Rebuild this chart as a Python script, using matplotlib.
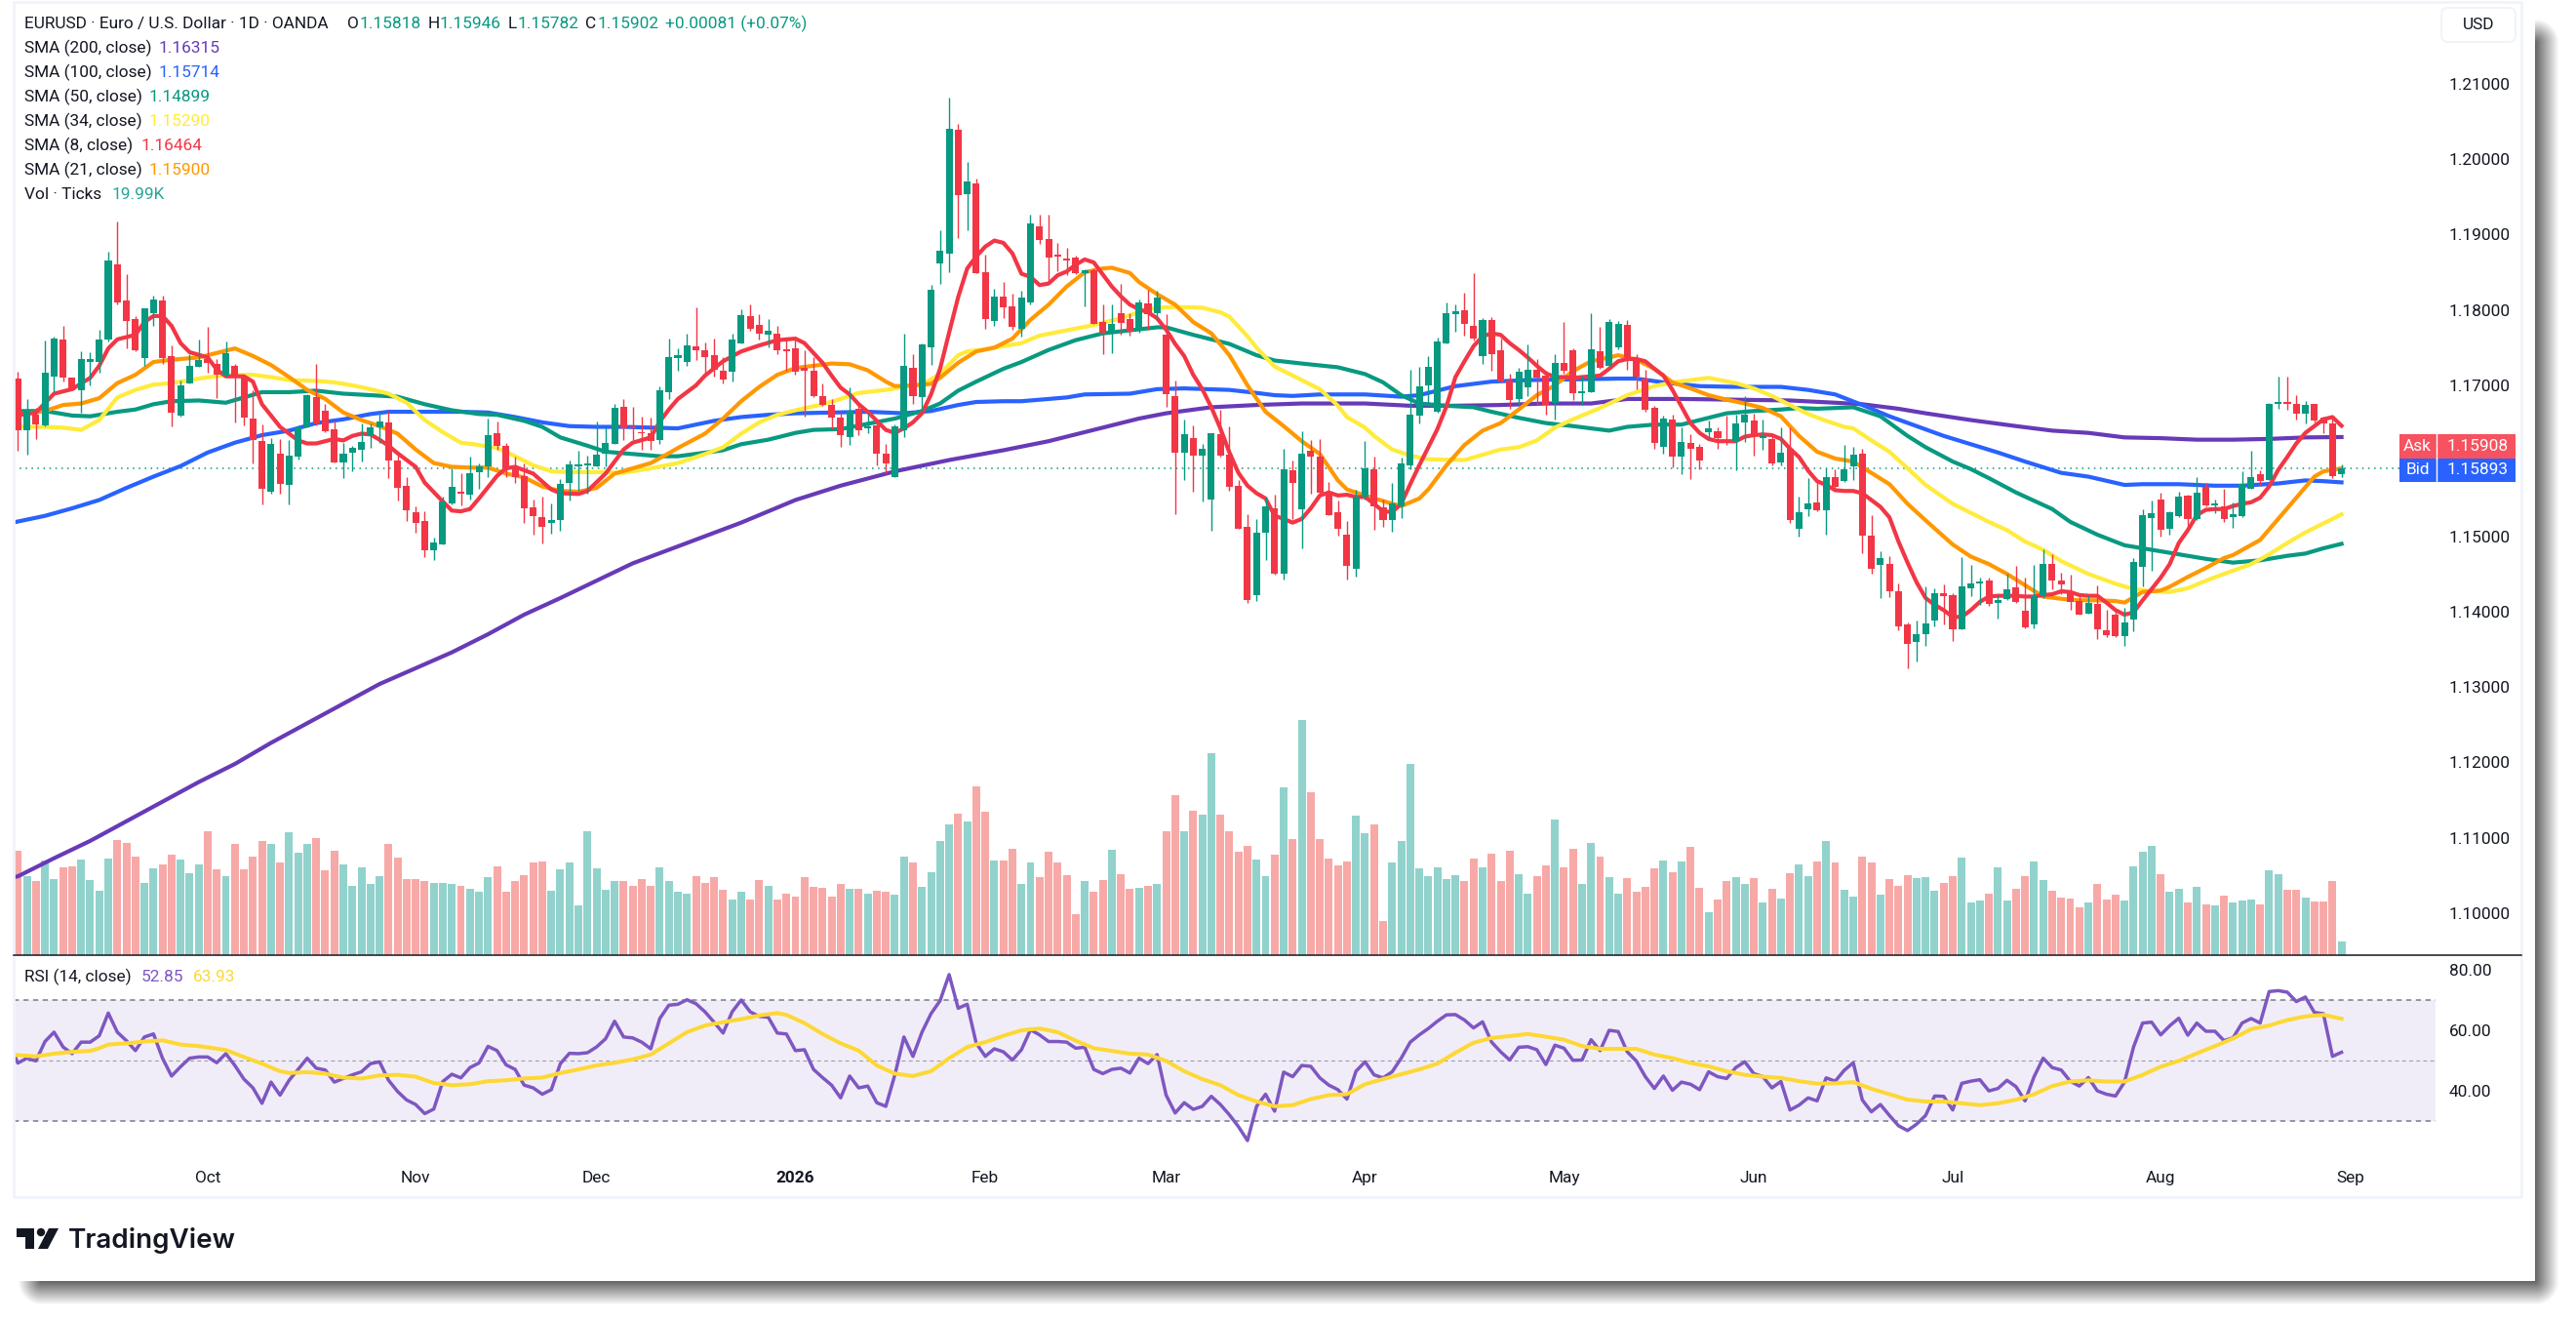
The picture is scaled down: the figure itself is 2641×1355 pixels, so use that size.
import numpy as np
import matplotlib
matplotlib.use('Agg')
import matplotlib.pyplot as plt
from matplotlib.patches import Rectangle, FancyBboxPatch, Polygon, Circle

W, H = 2641, 1355
UP = '#089981'
DOWN = '#f23645'
TEXT = '#131722'
FONT_SIZE = 12.4
plt.rcParams['font.family'] = ['Roboto', 'DejaVu Sans']

opens = [1.1709,1.1640,1.1661,1.1647,1.1712,1.1761,1.1710,1.1694,1.1731,1.1731,
         1.1761,1.1860,1.1813,1.1788,1.1736,1.1796,1.1813,1.1739,1.1660,1.1702,
         1.1725,1.1735,1.1728,1.1713,1.1726,1.1710,1.1656,1.1626,1.1559,1.1610,
         1.1568,1.1606,1.1645,1.1684,1.1666,1.1642,1.1598,1.1611,1.1615,1.1634,
         1.1644,1.1651,1.1600,1.1567,1.1532,1.1520,1.1481,1.1489,1.1543,1.1558,
         1.1555,1.1585,1.1592,1.1636,1.1620,1.1592,1.1580,1.1538,1.1526,1.1518,
         1.1521,1.1570,1.1592,1.1594,1.1593,1.1609,1.1623,1.1671,1.1645,1.1638,
         1.1636,1.1627,1.1691,1.1736,1.1731,1.1752,1.1746,1.1740,1.1719,1.1718,
         1.1756,1.1792,1.1780,1.1767,1.1769,1.1746,1.1749,1.1723,1.1719,1.1686,
         1.1674,1.1657,1.1632,1.1669,1.1643,1.1647,1.1609,1.1579,1.1641,1.1723,
         1.1684,1.1751,1.1862,1.1875,1.2039,1.1954,1.1968,1.1850,1.1785,1.1818,
         1.1805,1.1775,1.1810,1.1911,1.1894,1.1872,1.1867,1.1869,1.1849,1.1853,
         1.1784,1.1769,1.1796,1.1788,1.1774,1.1809,1.1796,1.1767,1.1686,1.1611,
         1.1630,1.1607,1.1548,1.1635,1.1608,1.1567,1.1513,1.1422,1.1505,1.1537,
         1.1450,1.1587,1.1536,1.1613,1.1606,1.1558,1.1532,1.1502,1.1457,1.1552,
         1.1589,1.1538,1.1522,1.1540,1.1594,1.1660,1.1700,1.1665,1.1756,1.1795,
         1.1800,1.1779,1.1739,1.1787,1.1747,1.1706,1.1682,1.1698,1.1721,1.1713,
         1.1677,1.1730,1.1747,1.1690,1.1691,1.1745,1.1726,1.1750,1.1780,1.1734,
         1.1709,1.1670,1.1618,1.1655,1.1605,1.1624,1.1618,1.1638,1.1639,1.1628,
         1.1626,1.1651,1.1653,1.1630,1.1629,1.1598,1.1616,1.1510,1.1536,1.1545,
         1.1534,1.1578,1.1573,1.1593,1.1609,1.1501,1.1462,1.1463,1.1427,1.1383,
         1.1360,1.1370,1.1388,1.1424,1.1422,1.1377,1.1431,1.1438,1.1441,1.1412,
         1.1417,1.1432,1.1401,1.1383,1.1421,1.1463,1.1441,1.1426,1.1414,1.1397,
         1.1410,1.1375,1.1396,1.1368,1.1389,1.1459,1.1524,1.1549,1.1510,1.1527,
         1.1554,1.1523,1.1565,1.1541,1.1540,1.1525,1.1527,1.1563,1.1582,1.1575,
         1.1676,1.1678,1.1675,1.1662,1.1675,1.1657,1.1650,1.15818]
highs = [1.1718,1.1682,1.1670,1.1759,1.1765,1.1779,1.1710,1.1745,1.1744,1.1774,
         1.1877,1.1917,1.1847,1.1792,1.1802,1.1819,1.1819,1.1753,1.1706,1.1741,
         1.1761,1.1778,1.1735,1.1758,1.1729,1.1713,1.1694,1.1648,1.1630,1.1629,
         1.1628,1.1647,1.1689,1.1729,1.1675,1.1654,1.1624,1.1620,1.1649,1.1650,
         1.1667,1.1666,1.1610,1.1578,1.1540,1.1533,1.1498,1.1553,1.1590,1.1583,
         1.1606,1.1597,1.1656,1.1652,1.1624,1.1606,1.1597,1.1549,1.1553,1.1543,
         1.1576,1.1600,1.1613,1.1607,1.1652,1.1645,1.1676,1.1682,1.1671,1.1659,
         1.1657,1.1699,1.1762,1.1749,1.1768,1.1804,1.1757,1.1762,1.1737,1.1768,
         1.1801,1.1807,1.1795,1.1788,1.1779,1.1760,1.1765,1.1747,1.1737,1.1703,
         1.1682,1.1665,1.1697,1.1675,1.1663,1.1653,1.1623,1.1648,1.1768,1.1742,
         1.1756,1.1833,1.1906,1.2081,1.2047,1.1996,1.1974,1.1873,1.1828,1.1837,
         1.1821,1.1825,1.1926,1.1927,1.1926,1.1889,1.1883,1.1872,1.1854,1.1855,
         1.1807,1.1807,1.1834,1.1796,1.1814,1.1827,1.1826,1.1794,1.1707,1.1655,
         1.1647,1.1623,1.1636,1.1668,1.1646,1.1574,1.1529,1.1523,1.1552,1.1555,
         1.1616,1.1601,1.1639,1.1627,1.1629,1.1572,1.1547,1.1520,1.1562,1.1626,
         1.1605,1.1549,1.1571,1.1604,1.1721,1.1724,1.1739,1.1764,1.1810,1.1807,
         1.1823,1.1849,1.1789,1.1791,1.1762,1.1715,1.1723,1.1754,1.1735,1.1719,
         1.1741,1.1784,1.1749,1.1713,1.1796,1.1778,1.1788,1.1786,1.1787,1.1741,
         1.1721,1.1673,1.1660,1.1661,1.1644,1.1635,1.1622,1.1653,1.1644,1.1660,
         1.1661,1.1686,1.1663,1.1655,1.1633,1.1644,1.1644,1.1553,1.1577,1.1575,
         1.1590,1.1589,1.1621,1.1619,1.1616,1.1528,1.1480,1.1474,1.1438,1.1385,
         1.1388,1.1434,1.1431,1.1436,1.1424,1.1472,1.1462,1.1445,1.1445,1.1422,
         1.1450,1.1461,1.1445,1.1462,1.1483,1.1476,1.1451,1.1449,1.1425,1.1422,
         1.1435,1.1402,1.1400,1.1405,1.1471,1.1536,1.1547,1.1558,1.1533,1.1559,
         1.1555,1.1579,1.1571,1.1549,1.1563,1.1545,1.1586,1.1613,1.1588,1.1677,
         1.1711,1.1711,1.1687,1.1679,1.1676,1.1658,1.1657,1.15946]
lows = [1.1613,1.1608,1.1629,1.1646,1.1691,1.1705,1.1694,1.1664,1.1700,1.1717,
        1.1758,1.1808,1.1749,1.1745,1.1726,1.1779,1.1728,1.1646,1.1658,1.1702,
        1.1724,1.1717,1.1683,1.1712,1.1651,1.1647,1.1597,1.1542,1.1556,1.1557,
        1.1542,1.1602,1.1644,1.1647,1.1638,1.1598,1.1577,1.1586,1.1599,1.1617,
        1.1624,1.1577,1.1547,1.1520,1.1505,1.1472,1.1468,1.1489,1.1542,1.1541,
        1.1549,1.1563,1.1579,1.1615,1.1578,1.1571,1.1518,1.1502,1.1491,1.1503,
        1.1507,1.1547,1.1560,1.1556,1.1592,1.1592,1.1622,1.1628,1.1628,1.1615,
        1.1614,1.1622,1.1682,1.1719,1.1726,1.1733,1.1712,1.1712,1.1702,1.1705,
        1.1755,1.1773,1.1761,1.1750,1.1742,1.1720,1.1714,1.1659,1.1684,1.1673,
        1.1642,1.1618,1.1621,1.1634,1.1637,1.1594,1.1584,1.1578,1.1632,1.1675,
        1.1666,1.1727,1.1835,1.1850,1.1895,1.1906,1.1849,1.1775,1.1779,1.1789,
        1.1774,1.1765,1.1808,1.1887,1.1839,1.1851,1.1846,1.1847,1.1805,1.1781,
        1.1741,1.1743,1.1767,1.1766,1.1770,1.1774,1.1787,1.1672,1.1529,1.1574,
        1.1559,1.1546,1.1507,1.1606,1.1560,1.1510,1.1411,1.1414,1.1468,1.1449,
        1.1443,1.1523,1.1484,1.1557,1.1557,1.1528,1.1501,1.1443,1.1446,1.1549,
        1.1509,1.1512,1.1506,1.1524,1.1589,1.1650,1.1676,1.1664,1.1755,1.1771,
        1.1766,1.1759,1.1729,1.1719,1.1704,1.1669,1.1673,1.1686,1.1674,1.1661,
        1.1655,1.1715,1.1681,1.1674,1.1691,1.1722,1.1725,1.1748,1.1721,1.1695,
        1.1665,1.1616,1.1609,1.1591,1.1582,1.1576,1.1589,1.1629,1.1616,1.1621,
        1.1587,1.1625,1.1607,1.1614,1.1594,1.1594,1.1518,1.1499,1.1527,1.1533,
        1.1502,1.1560,1.1572,1.1575,1.1478,1.1450,1.1418,1.1419,1.1375,1.1325,
        1.1334,1.1355,1.1381,1.1383,1.1361,1.1376,1.1420,1.1409,1.1408,1.1391,
        1.1415,1.1412,1.1378,1.1378,1.1418,1.1430,1.1423,1.1402,1.1396,1.1397,
        1.1364,1.1366,1.1366,1.1354,1.1374,1.1433,1.1454,1.1499,1.1502,1.1526,
        1.1514,1.1522,1.1540,1.1530,1.1519,1.1511,1.1526,1.1563,1.1567,1.1574,
        1.1669,1.1668,1.1655,1.1650,1.1651,1.1637,1.1577,1.15782]
closes = [1.1640,1.1666,1.1648,1.1717,1.1762,1.1710,1.1694,1.1735,1.1735,1.1761,
          1.1865,1.1810,1.1785,1.1746,1.1802,1.1814,1.1736,1.1664,1.1700,1.1726,
          1.1733,1.1730,1.1714,1.1743,1.1712,1.1657,1.1627,1.1563,1.1623,1.1569,
          1.1607,1.1645,1.1687,1.1650,1.1639,1.1598,1.1609,1.1617,1.1625,1.1644,
          1.1652,1.1600,1.1564,1.1535,1.1518,1.1481,1.1492,1.1546,1.1565,1.1557,
          1.1583,1.1593,1.1634,1.1620,1.1590,1.1579,1.1537,1.1527,1.1512,1.1521,
          1.1569,1.1595,1.1595,1.1597,1.1608,1.1624,1.1670,1.1643,1.1643,1.1636,
          1.1626,1.1694,1.1737,1.1740,1.1753,1.1747,1.1737,1.1721,1.1708,1.1761,
          1.1793,1.1775,1.1768,1.1772,1.1747,1.1745,1.1718,1.1720,1.1686,1.1674,
          1.1657,1.1634,1.1667,1.1641,1.1644,1.1609,1.1596,1.1646,1.1726,1.1686,
          1.1754,1.1827,1.1878,1.2040,1.1952,1.1971,1.1849,1.1788,1.1818,1.1804,
          1.1777,1.1817,1.1915,1.1893,1.1870,1.1871,1.1866,1.1849,1.1853,1.1781,
          1.1770,1.1781,1.1783,1.1771,1.1810,1.1795,1.1817,1.1689,1.1611,1.1635,
          1.1607,1.1616,1.1636,1.1607,1.1566,1.1510,1.1416,1.1505,1.1539,1.1450,
          1.1589,1.1570,1.1610,1.1606,1.1558,1.1528,1.1510,1.1461,1.1552,1.1590,
          1.1539,1.1521,1.1543,1.1597,1.1661,1.1699,1.1725,1.1758,1.1796,1.1798,
          1.1781,1.1762,1.1787,1.1742,1.1705,1.1681,1.1718,1.1721,1.1710,1.1674,
          1.1730,1.1719,1.1690,1.1692,1.1748,1.1723,1.1784,1.1782,1.1738,1.1712,
          1.1668,1.1624,1.1656,1.1605,1.1625,1.1616,1.1601,1.1643,1.1630,1.1625,
          1.1650,1.1661,1.1634,1.1631,1.1597,1.1611,1.1522,1.1532,1.1543,1.1534,
          1.1578,1.1565,1.1589,1.1608,1.1501,1.1457,1.1471,1.1427,1.1381,1.1357,
          1.1370,1.1384,1.1424,1.1421,1.1377,1.1434,1.1437,1.1440,1.1410,1.1415,
          1.1430,1.1413,1.1379,1.1421,1.1463,1.1441,1.1436,1.1413,1.1396,1.1412,
          1.1377,1.1369,1.1367,1.1386,1.1466,1.1528,1.1530,1.1508,1.1532,1.1552,
          1.1523,1.1558,1.1541,1.1543,1.1523,1.1529,1.1569,1.1579,1.1573,1.1676,
          1.1678,1.1675,1.1663,1.1674,1.1653,1.1650,1.1580,1.15902]

# volume in thousands of ticks
volumes = [148.9,112.0,105.2,134.7,108.4,125.2,126.8,136.2,107.3,92.1,137.8,164.1,159.9,140.4,103.1,123.6,
           129.4,143.1,136.2,116.8,129.4,176.7,122.6,112.6,158.3,122.6,140.4,162.5,158.3,132.0,175.2,146.2,
           158.3,166.7,121.0,148.9,129.4,98.9,125.2,101.5,112.6,158.3,138.9,108.4,108.4,105.7,103.1,103.1,
           101.5,98.9,94.7,90.5,111.5,126.8,89.4,104.7,114.1,132.0,133.6,92.1,122.6,132.0,71.0,176.7,
           123.6,93.1,104.7,105.7,98.9,108.4,98.9,125.2,105.7,90.5,87.8,112.6,103.1,111.5,93.1,79.4,
           90.5,79.4,107.3,98.9,79.4,87.8,83.6,111.5,97.3,96.3,83.6,100.5,94.7,94.7,87.8,92.1,
           90.5,86.3,140.4,131.0,97.3,118.4,162.5,186.2,201.5,190.4,240.4,204.1,134.7,134.7,151.5,101.5,
           131.0,111.5,147.3,131.0,114.1,58.9,105.7,89.4,107.3,149.9,115.7,94.7,96.3,98.9,101.5,176.7,
           227.8,176.7,205.7,199.9,287.2,199.9,176.7,147.3,155.7,136.2,112.6,143.1,237.8,165.2,334.5,232.0,
           165.2,137.8,127.8,133.6,198.8,173.6,186.2,48.9,132.0,162.5,271.9,123.6,112.6,125.2,108.4,114.1,
           104.7,137.8,125.2,144.7,104.7,148.9,115.7,87.8,112.6,127.8,193.0,125.2,151.5,101.5,159.9,140.4,
           111.5,87.8,109.9,89.4,97.3,123.6,134.7,118.4,133.6,154.1,96.3,61.5,79.4,104.7,111.5,101.5,
           109.9,75.2,94.7,81.0,116.8,129.4,112.6,133.6,161.5,131.0,93.1,83.6,140.4,132.0,86.3,108.4,
           98.9,114.1,109.9,111.5,92.1,103.1,112.6,138.9,75.2,77.8,87.8,125.2,77.8,94.7,112.6,133.6,
           107.3,92.1,82.1,81.0,68.4,75.2,100.5,79.4,86.3,77.8,126.8,147.3,155.7,115.7,90.5,94.7,
           75.2,97.3,72.6,70.0,85.2,74.2,77.8,79.4,72.6,119.9,115.7,93.1,93.1,82.1,76.8,76.8,
           105.7,19.99]

sma200_x = [-1,0,4,8,12,16,20,24,28,32,36,40,44,48,52,56,60,64,68,72,76,80,86,91,97,103,109,114,119,124,127,132,
            137,142,149,154,159,164,169,174,176,178,184,190,196,201,204,208,211,216,221,225,229,233,237,241,245,249,253,257]
sma200 = [1.1047,1.1049,1.1073,1.1096,1.1122,1.1148,1.1174,1.1198,1.1226,1.1252,1.1278,1.1304,1.1325,1.1346,1.1370,
          1.1396,1.1418,1.1441,1.1464,1.1482,1.1500,1.1518,1.1548,1.1567,1.1586,1.1601,1.1614,1.1626,1.1641,1.1656,
          1.1663,1.1671,1.1674,1.1676,1.1676,1.1673,1.1673,1.1674,1.1676,1.1676,1.1679,1.1682,1.1682,1.1681,1.1680,
          1.1677,1.1675,1.1669,1.1663,1.1654,1.1646,1.1640,1.1637,1.1631,1.1630,1.1628,1.1628,1.1629,1.1631,1.16315]

sma100_x = [-1,3,6,9,12,15,18,21,24,27,30,33,36,39,41,45,49,52,55,58,61,64,67,70,73,77,80,83,86,90,94,98,101,104,106,
            109,111,114,116,118,123,126,129,134,137,139,141,144,149,153,155,157,159,163,167,172,177,179,182,186,190,
            195,198,201,204,207,210,213,216,219,222,226,229,233,235,239,243,246,250,253,255,257]
sma100 = [1.1517,1.1527,1.1537,1.1548,1.1564,1.1579,1.1593,1.1611,1.1624,1.1634,1.1640,1.1650,1.1655,1.1662,1.1665,
          1.1665,1.1665,1.1664,1.1658,1.1651,1.1646,1.1645,1.1645,1.1644,1.1643,1.1653,1.1658,1.1661,1.1663,1.1664,
          1.1665,1.1663,1.1666,1.1674,1.1678,1.1679,1.1679,1.1682,1.1684,1.1688,1.1689,1.1695,1.1696,1.1694,1.1690,
          1.1687,1.1686,1.1688,1.1688,1.1685,1.1687,1.1693,1.1699,1.1705,1.1707,1.1708,1.1709,1.1709,1.1704,1.1699,
          1.1698,1.1698,1.1694,1.1688,1.1674,1.1659,1.1646,1.1633,1.1622,1.1611,1.1599,1.1584,1.1579,1.1568,1.1569,
          1.1569,1.1567,1.1567,1.1570,1.1574,1.1573,1.15714]

sma50_x = [-1,3,6,8,11,13,15,17,20,23,25,27,30,33,36,39,42,45,48,51,53,56,58,60,63,65,68,71,73,78,80,83,86,88,91,94,
           97,100,102,104,106,109,111,114,117,120,123,126,127,130,134,137,139,142,146,149,151,153,155,158,161,163,
           166,169,172,176,178,181,184,187,189,192,195,197,199,203,206,209,211,214,216,218,221,225,227,230,233,236,
           239,242,245,248,251,253,255,257]
sma50 = [1.1666,1.1666,1.1660,1.1659,1.1665,1.1668,1.1675,1.1679,1.1680,1.1677,1.1684,1.1691,1.1691,1.1693,1.1689,
         1.1687,1.1685,1.1675,1.1667,1.1662,1.1661,1.1653,1.1645,1.1631,1.1620,1.1612,1.1609,1.1606,1.1606,1.1614,
         1.1622,1.1628,1.1637,1.1641,1.1642,1.1649,1.1656,1.1666,1.1676,1.1693,1.1705,1.1722,1.1731,1.1747,1.1760,
         1.1769,1.1773,1.1777,1.1777,1.1767,1.1755,1.1740,1.1733,1.1729,1.1724,1.1715,1.1704,1.1687,1.1676,1.1673,
         1.1671,1.1665,1.1657,1.1650,1.1646,1.1640,1.1645,1.1648,1.1648,1.1657,1.1663,1.1666,1.1668,1.1670,1.1669,
         1.1671,1.1659,1.1633,1.1618,1.1599,1.1589,1.1577,1.1558,1.1536,1.1519,1.1502,1.1488,1.1482,1.1476,1.1470,
         1.1465,1.1468,1.1474,1.1477,1.1484,1.14899]

sma34_x = [-1,3,5,7,9,11,13,15,17,20,23,26,28,30,33,35,37,39,41,43,45,47,49,51,53,55,57,59,61,64,67,70,73,76,78,80,
           82,84,86,89,91,93,96,98,100,102,104,105,107,109,111,113,116,119,122,124,126,128,131,133,134,136,137,139,
           141,144,146,147,149,150,152,154,156,160,162,164,166,168,170,172,175,178,181,183,185,187,190,192,194,196,
           198,200,202,203,205,207,209,211,214,216,218,220,222,224,226,229,232,234,236,238,240,242,244,247,249,251,
           253,255,257]
sma34 = [1.1645,1.1645,1.1644,1.1641,1.1654,1.1684,1.1694,1.1701,1.1703,1.1709,1.1714,1.1714,1.1711,1.1707,1.1706,
         1.1704,1.1700,1.1695,1.1689,1.1677,1.1654,1.1638,1.1624,1.1621,1.1617,1.1606,1.1594,1.1586,1.1585,1.1585,
         1.1584,1.1590,1.1597,1.1609,1.1618,1.1636,1.1651,1.1661,1.1667,1.1675,1.1682,1.1690,1.1694,1.1698,1.1701,
         1.1715,1.1740,1.1745,1.1748,1.1752,1.1756,1.1766,1.1773,1.1780,1.1789,1.1797,1.1803,1.1804,1.1803,1.1797,
         1.1791,1.1765,1.1750,1.1725,1.1713,1.1695,1.1673,1.1658,1.1644,1.1633,1.1615,1.1607,1.1602,1.1601,1.1608,
         1.1615,1.1618,1.1627,1.1644,1.1655,1.1670,1.1687,1.1699,1.1704,1.1707,1.1710,1.1703,1.1696,1.1686,1.1674,
         1.1662,1.1653,1.1645,1.1643,1.1627,1.1612,1.1590,1.1568,1.1543,1.1531,1.1519,1.1508,1.1493,1.1482,1.1467,
         1.1450,1.1437,1.1430,1.1427,1.1426,1.1431,1.1441,1.1450,1.1463,1.1476,1.1491,1.1505,1.1517,1.15290]

sma21_x = [-1,3,5,7,9,11,13,15,17,20,22,24,26,28,30,32,34,36,38,40,42,44,46,48,50,52,54,56,58,60,62,64,66,68,70,72,
           73,76,78,80,82,84,86,88,90,92,94,96,97,99,101,102,104,106,108,110,112,114,116,118,120,121,123,124,126,128,
           130,132,134,136,138,140,142,144,146,147,149,152,153,155,156,158,160,162,164,166,168,170,172,174,176,177,
           179,181,183,185,187,189,191,193,195,197,199,201,203,205,207,209,211,214,216,218,220,222,224,226,228,230,
           232,233,235,237,238,240,242,244,245,248,250,252,254,255,257]
sma21 = [1.1659,1.1666,1.1674,1.1676,1.1683,1.1703,1.1714,1.1731,1.1734,1.1737,1.1743,1.1749,1.1739,1.1727,1.1711,
         1.1694,1.1682,1.1664,1.1654,1.1646,1.1636,1.1615,1.1597,1.1592,1.1591,1.1591,1.1583,1.1578,1.1566,1.1560,
         1.1559,1.1564,1.1583,1.1590,1.1597,1.1610,1.1617,1.1636,1.1656,1.1679,1.1698,1.1714,1.1723,1.1726,1.1729,
         1.1728,1.1720,1.1705,1.1699,1.1700,1.1702,1.1710,1.1730,1.1745,1.1750,1.1762,1.1787,1.1807,1.1831,1.1850,
         1.1855,1.1856,1.1849,1.1837,1.1821,1.1807,1.1784,1.1769,1.1740,1.1700,1.1665,1.1646,1.1626,1.1609,1.1574,
         1.1562,1.1554,1.1543,1.1540,1.1550,1.1562,1.1594,1.1621,1.1640,1.1650,1.1668,1.1687,1.1700,1.1719,1.1732,
         1.1737,1.1740,1.1734,1.1722,1.1704,1.1696,1.1687,1.1681,1.1676,1.1670,1.1659,1.1633,1.1612,1.1603,1.1599,
         1.1584,1.1569,1.1543,1.1521,1.1489,1.1473,1.1463,1.1450,1.1435,1.1420,1.1417,1.1415,1.1415,1.1414,1.1412,
         1.1426,1.1428,1.1433,1.1446,1.1458,1.1471,1.1475,1.1495,1.1523,1.1551,1.1579,1.1586,1.15900]

sma8_x = [-1,2,4,6,8,9,10,11,13,14,15,16,17,18,19,21,22,23,25,26,27,29,31,32,33,35,36,37,38,39,40,41,42,44,45,47,48,
          49,50,51,53,54,55,57,59,60,62,63,65,66,67,68,70,71,72,73]
sma8_x += list(range(75, 258))
for skipped in (77, 79, 81, 83, 85, 88):
    sma8_x.remove(skipped)
sma8 = [1.1659,1.1664,1.1689,1.1695,1.1710,1.1726,1.1749,1.1761,1.1767,1.1784,1.1792,1.1792,1.1779,1.1756,1.1744,
        1.1737,1.1721,1.1712,1.1712,1.1705,1.1675,1.1645,1.1627,1.1623,1.1623,1.1629,1.1627,1.1633,1.1636,1.1635,
        1.1628,1.1620,1.1610,1.1592,1.1571,1.1546,1.1534,1.1533,1.1536,1.1550,1.1580,1.1590,1.1592,1.1583,1.1562,
        1.1557,1.1556,1.1560,1.1583,1.1599,1.1615,1.1624,1.1631,1.1652,1.1668,1.1682,
        1.1700,1.1713,1.1732,1.1745,1.1753,1.1760,1.1762,1.1756,1.1730,1.1713,1.1697,1.1688,1.1675,1.1665,1.1653,
        1.1641,1.1637,1.1643,1.1651,1.1663,1.1688,1.1722,1.1770,1.1817,1.1855,1.1871,1.1884,1.1892,1.1889,1.1875,
        1.1848,1.1844,1.1833,1.1835,1.1846,1.1851,1.1860,1.1867,1.1863,1.1847,1.1831,1.1818,1.1807,1.1801,1.1797,
        1.1789,1.1774,1.1755,1.1739,1.1714,1.1695,1.1671,1.1643,1.1611,1.1584,1.1567,1.1557,1.1550,1.1527,1.1523,
        1.1518,1.1523,1.1537,1.1554,1.1558,1.1554,1.1555,1.1552,1.1552,1.1543,1.1533,1.1532,1.1543,1.1569,1.1594,
        1.1618,1.1642,1.1672,1.1711,1.1732,1.1752,1.1765,1.1769,1.1767,1.1756,1.1747,1.1737,1.1726,1.1716,1.1711,
        1.1711,1.1710,1.1711,1.1712,1.1713,1.1722,1.1732,1.1735,1.1735,1.1732,1.1722,1.1713,1.1694,1.1672,1.1650,
        1.1637,1.1629,1.1626,1.1626,1.1626,1.1632,1.1634,1.1635,1.1634,1.1629,1.1616,1.1605,1.1587,1.1573,1.1568,
        1.1561,1.1560,1.1560,1.1557,1.1548,1.1539,1.1525,1.1493,1.1465,1.1439,1.1418,1.1409,1.1402,1.1393,1.1393,
        1.1402,1.1413,1.1420,1.1421,1.1421,1.1421,1.1420,1.1420,1.1422,1.1423,1.1427,1.1426,1.1422,1.1421,1.1421,
        1.1412,1.1402,1.1396,1.1399,1.1415,1.1430,1.1445,1.1463,1.1491,1.1508,1.1528,1.1535,1.1536,1.1536,1.1540,
        1.1543,1.1545,1.1551,1.1566,1.1588,1.1605,1.1623,1.1637,1.1646,1.1655,1.1658,1.16464]

# one value per bar, from the bar before the first one on screen
rsi = [56.4,49.3,50.9,50.0,56.4,59.5,54.6,52.4,56.2,56.2,58.3,65.8,59.5,56.7,53.4,57.9,58.9,50.9,45.0,48.1,
       50.9,51.3,51.3,49.4,52.4,48.5,44.0,41.1,36.0,43.0,38.7,43.6,47.2,50.9,47.6,47.0,43.0,44.2,45.4,46.4,
       49.1,49.7,43.6,39.9,37.1,35.6,32.6,34.1,43.2,45.6,44.4,47.8,49.3,54.8,53.4,48.7,47.2,42.0,41.1,39.0,
       40.5,49.1,52.5,52.4,52.7,54.6,57.3,63.1,57.9,57.6,56.2,54.0,64.0,68.4,68.7,70.2,68.9,66.2,62.8,59.2,
       66.2,70.1,66.2,64.7,64.4,59.2,58.9,53.4,53.7,47.2,44.5,42.0,37.8,45.0,41.1,41.7,36.2,35.0,45.4,57.9,
       51.5,59.5,65.6,69.9,78.5,67.4,68.7,55.8,51.5,54.0,53.0,50.3,53.7,60.3,58.6,56.4,56.4,56.2,54.2,54.5,
       47.2,45.8,47.2,47.6,46.0,50.9,49.1,52.1,38.7,32.8,36.2,34.0,35.0,38.3,35.6,32.2,28.3,23.7,35.0,39.0,
       33.4,46.3,44.8,48.5,48.2,44.4,42.0,40.5,37.4,46.6,49.7,45.4,44.4,46.4,50.9,56.2,58.6,60.7,63.1,65.2,
       65.3,63.5,60.9,62.9,56.2,53.0,50.3,54.5,54.7,53.7,48.8,55.2,54.2,50.2,50.3,57.0,53.4,60.1,59.7,53.0,
       50.0,44.8,40.9,45.0,40.3,43.0,42.3,40.5,46.4,44.8,44.2,47.8,49.7,45.8,44.8,41.1,43.2,33.8,35.4,37.8,
       36.8,44.4,43.3,46.9,49.4,37.1,33.2,35.6,32.0,28.6,27.0,29.1,32.0,38.4,38.3,33.8,42.6,43.3,43.8,40.1,
       40.9,43.6,41.5,36.8,44.8,50.9,47.8,47.0,43.3,41.7,44.5,40.1,39.0,38.4,43.0,54.6,62.5,62.8,58.6,61.6,
       64.1,58.5,62.5,59.8,59.8,56.7,57.6,62.5,64.0,62.5,72.9,73.2,72.7,69.6,71.1,66.0,65.6,51.5,52.85]

rsi_ma_x = [-1,0,2,4,6,8,9,10,12,14,16,18,20,23,25,27,29,30,32,34,36,38,40,42,44,46,48,50,52,54,56,58,60,62,64,66,68,
            70,72,74,76,78,80,82,84,85,87,89,91,93,95,97,99,101,103,105,107,109,111,113,115,117,119,121,123,125,127,
            129,131,133,135,137,139,141,143,145,147,149,151,153,155,157,159,161,163,165,167,169,171,173,175,177,179,
            181,183,185,187,189,191,193,195,197,199,201,203,205,207,209,211,213,215,217,219,221,223,225,227,229,231,
            233,235,237,239,241,243,245,247,249,251,253,255,257]
rsi_ma = [52.0,51.9,51.5,52.4,53.0,53.3,54.2,55.4,55.8,56.4,56.8,55.4,54.9,53.6,51.3,49.1,46.6,46.0,46.3,45.8,44.5,
          44.2,45.2,45.4,44.8,42.7,42.0,42.3,43.3,43.6,44.2,44.5,46.0,47.2,48.5,49.4,50.5,52.1,55.8,59.5,61.7,62.8,
          63.8,65.0,65.8,65.2,62.5,58.9,55.8,53.4,48.5,45.8,45.0,46.6,50.9,54.6,56.2,58.3,60.1,60.7,59.5,56.7,54.2,
          53.3,52.4,52.1,50.0,46.6,44.0,42.0,38.7,36.6,35.0,35.4,37.4,38.7,39.0,42.3,44.0,45.6,47.2,49.1,52.7,56.0,
          57.6,58.2,58.9,58.0,57.0,54.9,54.0,54.0,54.0,52.1,50.9,49.3,48.2,46.6,45.4,44.8,44.4,43.3,42.5,42.6,43.0,
          40.8,39.0,37.2,36.6,36.6,36.0,35.4,36.0,37.2,39.0,41.7,43.2,43.6,43.2,43.2,45.4,48.1,50.0,52.5,54.9,57.4,
          60.5,61.7,63.5,64.7,65.2,63.93]

month_pos = [21, 44, 64, 86, 107, 127, 149, 171, 192, 214, 237, 258]
month_labels = ['Oct', 'Nov', 'Dec', '2026', 'Feb', 'Mar', 'Apr', 'May', 'Jun', 'Jul', 'Aug', 'Sep']
# the 1.16000 label sits under the Ask/Bid tags in the reference, so it is left out
price_ticks = [1.10, 1.11, 1.12, 1.13, 1.14, 1.15, 1.17, 1.18, 1.19, 1.20, 1.21]
rsi_ticks = [40, 60, 80]
last_price = 1.159


def box(x0, y0, x1, y1):
    # pixel box, top-left origin, to figure fractions
    return [x0 / W, 1 - y1 / H, (x1 - x0) / W, (y1 - y0) / H]


fig = plt.figure(figsize=(W / 100, H / 100), dpi=100, facecolor='white')

# drop shadow behind the white card
bg = fig.add_axes([0, 0, 1, 1], zorder=0)
yy, xx = np.mgrid[0:H, 0:W]
dx = np.maximum(np.maximum(42 - xx, xx - 2599), 0)
dy = np.maximum(np.maximum(43 - yy, yy - 1313), 0)
dark = np.clip(1 - np.hypot(dx, dy) / 24, 0, 1)
shade = 1 - 0.6 * dark
shade[(xx < 2599) & (yy < 1313)] = 1
bg.imshow(shade, cmap='gray', vmin=0, vmax=1, extent=[0, W, H, 0], aspect='auto', interpolation='nearest')
bg.axis('off')

n = len(closes)
bars = np.arange(n)
opens_a, highs_a, lows_a, closes_a = map(np.array, (opens, highs, lows, closes))
colors = np.where(closes_a >= opens_a, UP, DOWN)
vol_colors = np.where(closes_a >= opens_a, '#92d2cc', '#f7a9a7')
x_lim = (-0.464, 267.4)

ax_vol = fig.add_axes(box(14, 1, 2497, 979), zorder=1)
ax_vol.bar(bars, volumes, width=0.86, color=vol_colors, linewidth=0)
ax_vol.set_xlim(x_lim)
ax_vol.set_ylim(0, 1355.5)
ax_vol.axis('off')

ax = fig.add_axes(box(14, 1, 2497, 979), zorder=2)
ax.patch.set_visible(False)
ax.set_xlim(x_lim)
ax.set_ylim(1.09445, 1.22097)
ax.axhline(last_price, color=UP, lw=1.1, ls=(0, (1, 3)), zorder=1)
ax.plot(sma200_x, sma200, color='#673ab7', lw=3.0, zorder=2)
ax.plot(sma100_x, sma100, color='#2962ff', lw=3.0, zorder=2)
ax.plot(sma50_x, sma50, color='#089981', lw=3.0, zorder=2)
ax.plot(sma34_x, sma34, color='#ffeb3b', lw=3.0, zorder=2)
ax.plot(sma21_x, sma21, color='#ff9800', lw=3.0, zorder=2)
ax.plot(sma8_x, sma8, color='#f23645', lw=3.0, zorder=2)
ax.vlines(bars, lows_a, highs_a, colors=colors, lw=1.0, zorder=3)
body_low = np.minimum(opens_a, closes_a)
body_h = np.maximum(np.abs(closes_a - opens_a), 0.00025)
ax.bar(bars, body_h, bottom=body_low, width=0.76, color=colors, linewidth=0, zorder=4)
ax.set_yticks(price_ticks)
ax.set_yticklabels(['%.5f' % p for p in price_ticks])
ax.yaxis.tick_right()
ax.tick_params(axis='y', length=0, pad=10, labelsize=FONT_SIZE, labelcolor=TEXT)
ax.set_xticks([])
for side in ax.spines.values():
    side.set_visible(False)

ax_rsi = fig.add_axes(box(14, 980, 2497, 1192), zorder=2)
ax_rsi.patch.set_visible(False)
ax_rsi.set_xlim(x_lim)
ax_rsi.set_ylim(16.3, 84.6)
ax_rsi.axhspan(30, 70, color='#7e57c2', alpha=0.1, lw=0)
ax_rsi.axhline(70, color='#787b86', lw=1.1, ls=(0, (3.5, 3)))
ax_rsi.axhline(50, color='#787b86', lw=0.8, alpha=0.7, ls=(0, (3.5, 3)))
ax_rsi.axhline(30, color='#787b86', lw=1.1, ls=(0, (3.5, 3)))
ax_rsi.plot(np.arange(-1, n), rsi, color='#7e57c2', lw=2.5)
ax_rsi.plot(rsi_ma_x, rsi_ma, color='#fdd835', lw=2.9)
ax_rsi.set_yticks(rsi_ticks)
ax_rsi.set_yticklabels(['%.2f' % t for t in rsi_ticks])
ax_rsi.yaxis.tick_right()
ax_rsi.tick_params(axis='y', length=0, pad=10, labelsize=FONT_SIZE, labelcolor=TEXT)
ax_rsi.set_xticks(month_pos)
ax_rsi.set_xticklabels(month_labels)
ax_rsi.tick_params(axis='x', length=0, pad=6, labelsize=FONT_SIZE, labelcolor=TEXT)
ax_rsi.get_xticklabels()[3].set_fontweight('bold')
for side in ax_rsi.spines.values():
    side.set_visible(False)

# overlay in pixel coordinates for the frame, legends, tags and logo
top = fig.add_axes([0, 0, 1, 1], zorder=5)
top.patch.set_visible(False)
top.set_xlim(0, W)
top.set_ylim(H, 0)
top.axis('off')

frame = '#f0f3fa'
top.plot([14, 14, 2585, 2585, 14], [2, 1227, 1227, 2, 2], color=frame, lw=2)
top.plot([14, 2585], [979, 979], color=TEXT, lw=1.1)


def label(x, y, s, color=TEXT, size=FONT_SIZE, **kw):
    top.text(x, y, s, color=color, fontsize=size, va='center', ha=kw.pop('ha', 'left'), **kw)


label(25, 24.5, 'EURUSD · Euro / U.S. Dollar · 1D · OANDA')
for x_l, x_v, letter, val in [(356, 368, 'O', '1.15818'), (439, 450, 'H', '1.15946'),
                              (521, 530, 'L', '1.15782'), (600, 612, 'C', '1.15902')]:
    label(x_l, 24.5, letter)
    label(x_v, 24.5, val, color=UP)
label(682, 24.5, '+0.00081 (+0.07%)', color=UP)

rows = [('SMA (200, close)', '1.16315', '#673ab7', 162), ('SMA (100, close)', '1.15714', '#2962ff', 162),
        ('SMA (50, close)', '1.14899', '#089981', 153), ('SMA (34, close)', '1.15290', '#ffeb3b', 153),
        ('SMA (8, close)', '1.16464', '#f23645', 144), ('SMA (21, close)', '1.15900', '#ff9800', 153),
        ('Vol · Ticks', '19.99K', '#26a69a', 114)]
for k, (name, val, col, x_v) in enumerate(rows):
    label(25, 49.5 + 25 * k, name)
    label(x_v, 49.5 + 25 * k, val, color=col)

label(25, 1001.5, 'RSI (14, close)')
label(145, 1001.5, '52.85', color='#7e57c2')
label(198, 1001.5, '63.93', color='#fdd835')

# USD box
top.add_patch(FancyBboxPatch((2507, 12), 68, 27, boxstyle='round,pad=4,rounding_size=7',
                             fc='white', ec='#f0f3fa', lw=1.4))
label(2541, 26, 'USD', ha='center')

# Ask / Bid tags
for y0, y1, col, name, val in [(445, 469.5, '#f7525f', 'Ask', '1.15908'), (470, 494, '#2962ff', 'Bid', '1.15893')]:
    top.add_patch(Rectangle((2460, y0), 118.5, y1 - y0, fc=col, ec='none'))
    top.plot([2497.5, 2497.5], [y0, y1], color='white', lw=1)
    label(2478.5, (y0 + y1) / 2, name, color='white', ha='center')
    label(2572, (y0 + y1) / 2, val, color='white', ha='right')

# TradingView logo
ink = '#131722'
top.add_patch(Polygon([(17, 1259), (35, 1259), (35, 1280), (26, 1280), (26, 1268), (17, 1268)], fc=ink, ec='none'))
top.add_patch(Circle((42, 1263), 4.2, fc=ink, ec='none'))
top.add_patch(Polygon([(50, 1259), (60, 1259), (49, 1280), (39, 1280)], fc=ink, ec='none'))
top.text(70, 1279, 'TradingView', color=ink, fontsize=20, family='Inter', fontweight='semibold', va='baseline')

fig.savefig('out.png', dpi=100, facecolor='white')
